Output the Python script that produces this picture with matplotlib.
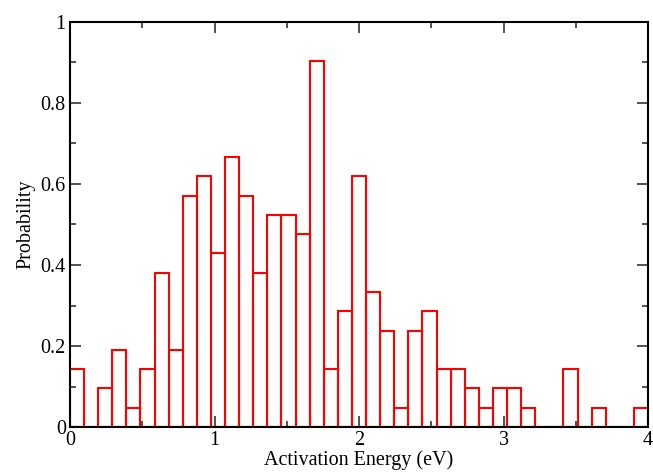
import numpy as np
import matplotlib
matplotlib.use('Agg')
import matplotlib.pyplot as plt
from matplotlib.ticker import MultipleLocator

# histogram of activation energies, 41 bins between 0 and 4 eV
n_bins = 41
e_min, e_max = 0.0, 4.0
counts = [3, 0, 2, 4, 1, 3, 8, 4, 12, 13, 9, 14, 12, 8, 11, 11, 10, 19, 3, 6,
          13, 7, 5, 1, 5, 6, 3, 3, 2, 1, 2, 2, 1, 0, 0, 3, 0, 1, 0, 0, 1]
norm = 21.0
prob = np.array(counts) / norm

edges = np.linspace(e_min, e_max, n_bins + 1)
width = edges[1] - edges[0]

plt.rcParams['font.family'] = ['Liberation Serif', 'DejaVu Serif']

fig = plt.figure(figsize=(6.53, 4.73), dpi=100)
ax = fig.add_axes([70/653, 1 - 427/473, 578/653, 405/473])

ax.bar(edges[:-1], prob, width=width, align='edge', fill=False,
       edgecolor='#ff0000', linewidth=1.5)
# empty bins still show the outline along the baseline
ax.hlines(0, e_min, e_max, color='#ff0000', linewidth=1.5)

ax.set_xlim(0, 4)
ax.set_ylim(0, 1)
ax.xaxis.set_minor_locator(MultipleLocator(0.5))
ax.yaxis.set_minor_locator(MultipleLocator(0.1))
ax.set_yticks([0, 0.2, 0.4, 0.6, 0.8, 1.0])
ax.set_yticklabels(['0', '0.2', '0.4', '0.6', '0.8', '1'])
ax.set_xticks([0, 1, 2, 3, 4])
ax.set_xticklabels(['0', '1', '2', '3', '4'])

ax.tick_params(which='both', direction='in', top=True, right=True,
               labelsize=14.5, color='#333333', width=1.2)
ax.tick_params(which='major', length=8, pad=3)
ax.tick_params(which='minor', length=4)
for s in ax.spines.values():
    s.set_linewidth(1.5)

ax.set_xlabel('Activation Energy (eV)', fontsize=14.5, labelpad=0)
ax.set_ylabel('Probability', fontsize=14.5, labelpad=4)

plt.savefig('out.png', dpi=100)
